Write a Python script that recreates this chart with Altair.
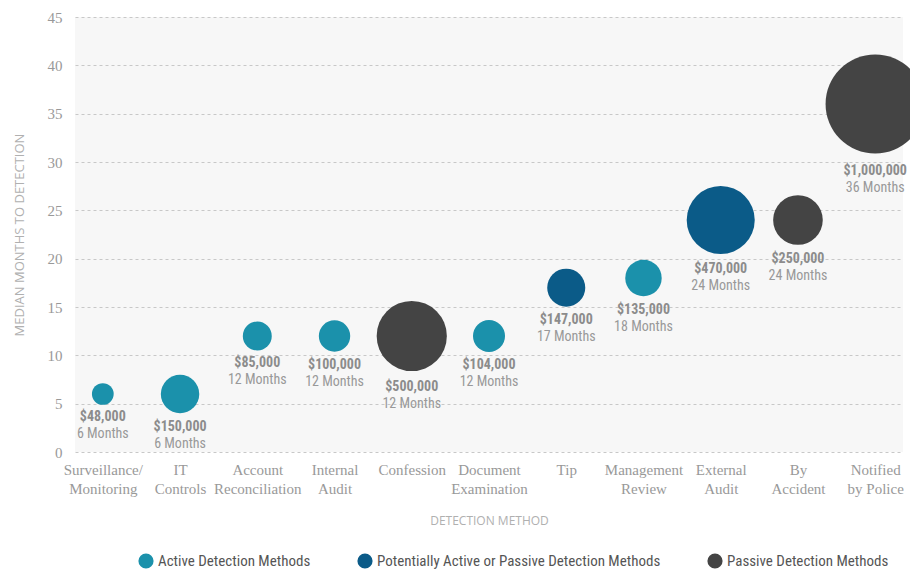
import altair as alt
import pandas as pd

methods = ["Surveillance/\nMonitoring", "IT\nControls", "Account\nReconciliation",
           "Internal\nAudit", "Confession", "Document\nExamination", "Tip",
           "Management\nReview", "External\nAudit", "By\nAccident", "Notified\nby Police"]
months = [6, 6, 12, 12, 12, 12, 17, 18, 24, 24, 36]
median_loss = [48000, 150000, 85000, 100000, 500000, 104000, 147000, 135000, 470000, 250000, 1000000]
group_names = ["Active Detection Methods", "Potentially Active or Passive Detection Methods",
               "Passive Detection Methods"]
group_of = [0, 0, 0, 0, 2, 0, 1, 0, 1, 2, 2]
group_colors = ["#1b91ab", "#0b5b88", "#444444"]

df = pd.DataFrame({
    "method": methods,
    "months": months,
    "loss": median_loss,
    "group": [group_names[g] for g in group_of],
    "amount": [f"${v:,}" for v in median_loss],
    "mlabel": [f"{m} Months" for m in months],
})

MAX_AREA = 9850
PLOT_H = 435
Y_MAX = 45
serif = "Liberation Serif, DejaVu Serif, serif"
narrow = "Liberation Sans Narrow, Roboto Condensed, Roboto, sans-serif"

x = alt.X("method:N", sort=methods,
          scale=alt.Scale(type="point", padding=0.36),
          axis=alt.Axis(title="DETECTION METHOD", labelExpr="split(datum.label, '\\n')",
                        labelAngle=0, labelFont=serif, labelFontSize=15, labelColor="#999999",
                        labelLineHeight=19, labelPadding=10, ticks=False, domain=False,
                        grid=False, titleFont="Open Sans", titleFontSize=12,
                        titleFontWeight="normal", titleColor="#b0b0b0", titlePadding=19))
yscale = alt.Scale(domain=[0, Y_MAX])
y = alt.Y("months:Q", scale=yscale,
          axis=alt.Axis(title="MEDIAN MONTHS TO DETECTION", values=list(range(0, 50, 5)),
                        labelFont=serif, labelFontSize=15, labelColor="#999999",
                        labelPadding=13, ticks=False, domain=False, grid=True,
                        gridDash=[3, 3], gridColor="#c8c8c8", gridWidth=1,
                        titleFont="Open Sans", titleFontSize=13, titleFontWeight="normal",
                        titleColor="#b0b0b0", titlePadding=21))

base = alt.Chart(df)

bubbles = base.mark_circle(opacity=1).encode(
    x=x, y=y,
    size=alt.Size("loss:Q", scale=alt.Scale(domain=[0, 1000000], range=[0, MAX_AREA]), legend=None),
    color=alt.Color("group:N",
                    scale=alt.Scale(domain=group_names, range=group_colors),
                    legend=alt.Legend(title=None, orient="none", legendX=63, legendY=536,
                                      direction="horizontal", symbolType="circle",
                                      symbolSize=230, symbolStrokeWidth=0, labelLimit=0,
                                      labelFont=narrow, labelFontSize=15, labelColor="#555555",
                                      columnPadding=46, labelOffset=4)),
)

# label anchors placed just below each bubble (radius converted to data units)
calc = base.transform_calculate(
    r=f"sqrt(datum.loss * {MAX_AREA} / 1000000 / PI)"
).transform_calculate(
    y1=f"datum.months - (datum.r + 4) * {Y_MAX} / {PLOT_H}",
    y2=f"datum.months - (datum.r + 21) * {Y_MAX} / {PLOT_H}",
)

amounts = calc.mark_text(baseline="top", font=narrow, fontWeight="bold", fontSize=14,
                         color="#8c8c8c").encode(
    x=x, y=alt.Y("y1:Q", scale=yscale), text="amount:N")
mlabels = calc.mark_text(baseline="top", font=narrow, fontSize=14,
                         color="#999999").encode(
    x=x, y=alt.Y("y2:Q", scale=yscale), text="mlabel:N")

chart = alt.layer(bubbles, amounts, mlabels).properties(
    width=828, height=PLOT_H,
    autosize=alt.AutoSizeParams(type="none"),
    padding={"left": 67, "top": 9, "right": 7, "bottom": 121},
    background="white",
).configure_view(fill="#f7f7f7", stroke=None)

chart.save("out.html", embed_options={"renderer": "svg", "actions": False})
